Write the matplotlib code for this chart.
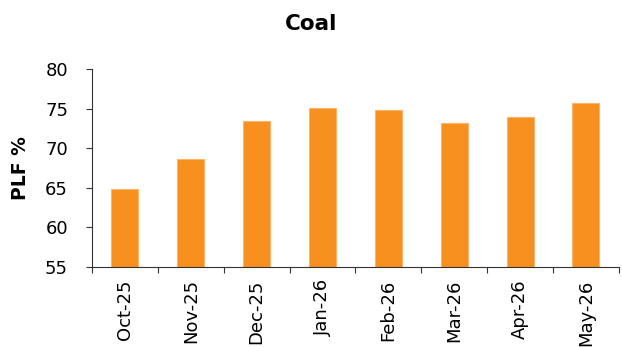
import numpy as np
import matplotlib.pyplot as plt

# monthly coal plant load factor
months = ["Oct-25", "Nov-25", "Dec-25", "Jan-26", "Feb-26", "Mar-26", "Apr-26", "May-26"]
plf = [64.8, 68.7, 73.5, 75.1, 74.8, 73.2, 74.0, 75.8]

fig = plt.figure(figsize=(6.22, 3.47), dpi=100)
ax = fig.add_axes([0.148, 0.231, 0.847, 0.569])

x = np.arange(len(months))
ax.bar(x, np.array(plf) - 55, bottom=55, width=0.41, color="#F7901E",
       edgecolor="#FBB46A", linewidth=0.8)

ax.set_xlim(-0.5, len(months) - 0.5)
ax.set_ylim(55, 80)
ax.set_yticks(np.arange(55, 81, 5))

# ticks on category boundaries, labels centred under bars
ax.set_xticks(np.arange(len(months) + 1) - 0.5)
ax.set_xticklabels([])
ax.set_xticks(x, minor=True)
ax.set_xticklabels(months, minor=True, rotation=90, fontsize=13)
ax.tick_params(axis="x", which="minor", length=0, pad=9)
ax.tick_params(axis="x", which="major", length=4.5, direction="out", color="#333333")
ax.tick_params(axis="y", labelsize=13, length=4.3, pad=13, direction="out", color="#333333")

for s in ["top", "right"]:
    ax.spines[s].set_visible(False)
for s in ["left", "bottom"]:
    ax.spines[s].set_color("#333333")

ax.set_ylabel("PLF %", fontsize=13.5, fontweight="bold")
ax.yaxis.set_label_coords(-0.118, 0.5)
fig.text(0.5, 0.931, "Coal", ha="center", va="center", fontsize=15.5, fontweight="bold")

fig.savefig("out.png", dpi=100)
